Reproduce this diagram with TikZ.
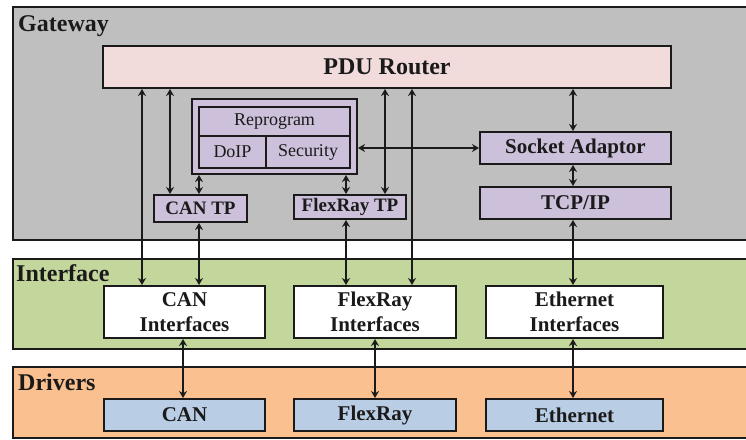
\documentclass[tikz,border=0pt]{standalone}
\usepackage{fontspec}
\setmainfont{Liberation Serif}
\usetikzlibrary{arrows.meta}
\definecolor{gwgray}{HTML}{BFBFBF}
\definecolor{pdupink}{HTML}{F2DCDB}
\definecolor{lilac}{HTML}{CCC0DA}
\definecolor{ifgreen}{HTML}{C3D69B}
\definecolor{drvorange}{HTML}{FAC090}
\definecolor{drvblue}{HTML}{B9CDE5}
\definecolor{ink}{HTML}{1A1A1A}
\begin{document}
\begin{tikzpicture}[x=1pt,y=-1pt,
  box/.style={draw=ink, line width=2pt, anchor=north west, inner sep=0pt,
    font=\bfseries\fontsize{21}{25}\selectfont, text=ink, align=center},
  layer/.style={draw=ink, line width=2.2pt, anchor=north west, inner sep=0pt},
  layerlabel/.style={anchor=base west, inner sep=0pt, text=ink,
    font=\bfseries\fontsize{24}{28}\selectfont},
  cell/.style={box, font=\fontsize{18}{22}\selectfont, fill=lilac},
  tpbox/.style={box, font=\bfseries\fontsize{19}{23}\selectfont, fill=lilac},
  arr/.style={draw=ink, line width=2pt,
    {Stealth[length=7pt,width=8pt]}-{Stealth[length=7pt,width=8pt]}}]
\clip (0,0) rectangle (746,439);
\fill[white] (0,0) rectangle (746,439);

% layers
\node[layer, fill=gwgray, minimum width=760, minimum height=233] (gateway) at (12,6) {};
\node[layer, fill=ifgreen, minimum width=760, minimum height=90] (interface) at (12,258) {};
\node[layer, fill=drvorange, minimum width=760, minimum height=71] (drivers) at (12,366) {};
\node[layerlabel] (gwlabel) at (18,31) {Gateway};
\node[layerlabel] (iflabel) at (16,281) {Interface};
\node[layerlabel] (drvlabel) at (18,390) {Drivers};

% gateway content
\node[box, fill=pdupink, minimum width=568, minimum height=42,
  font=\bfseries\fontsize{24}{28}\selectfont] (pdu) at (102,45) {PDU Router};
\node[box, fill=lilac, minimum width=165, minimum height=75] (reprog) at (191,98) {};
\node[cell, minimum width=151, minimum height=29] (reprogram) at (198,106) {Reprogram};
\node[cell, minimum width=67, minimum height=32] (doip) at (198,135) {DoIP};
\node[cell, minimum width=84, minimum height=32] (security) at (265,135) {Security};
\node[tpbox, minimum width=93, minimum height=27] (cantp) at (153,194) {CAN TP};
\node[tpbox, minimum width=112, minimum height=24] (frtp) at (293,194) {FlexRay TP};
\node[box, fill=lilac, minimum width=191, minimum height=32] (socket) at (479,131) {Socket Adaptor};
\node[box, fill=lilac, minimum width=191, minimum height=32] (tcpip) at (479,186) {TCP/IP};

% interface content
\node[box, fill=white, minimum width=161, minimum height=52] (canif) at (103,285) {CAN\\Interfaces};
\node[box, fill=white, minimum width=162, minimum height=52] (frif) at (293,285) {FlexRay\\Interfaces};
\node[box, fill=white, minimum width=177, minimum height=52] (ethif) at (485,285) {Ethernet\\Interfaces};

% drivers content
\node[box, fill=drvblue, minimum width=161, minimum height=32] (can) at (103,398) {CAN};
\node[box, fill=drvblue, minimum width=162, minimum height=32] (fr) at (293,398) {FlexRay};
\node[box, fill=drvblue, minimum width=177, minimum height=32] (eth) at (485,398) {Ethernet};

% connectors
\draw[arr] (pdu.south -| 142,0) -- (canif.north -| 142,0);
\draw[arr] (pdu.south -| 170,0) -- (cantp.north -| 170,0);
\draw[arr] (reprog.south -| 199,0) -- (cantp.north -| 199,0);
\draw[arr] (cantp.south -| 199,0) -- (canif.north -| 199,0);
\draw[arr] (reprog.south -| 346,0) -- (frtp.north -| 346,0);
\draw[arr] (frtp.south -| 346,0) -- (frif.north -| 346,0);
\draw[arr] (pdu.south -| 385,0) -- (frtp.north -| 385,0);
\draw[arr] (pdu.south -| 412,0) -- (frif.north -| 412,0);
\draw[arr] (reprog.east |- socket.west) -- (socket.west);
\draw[arr] (pdu.south -| 573,0) -- (socket.north -| 573,0);
\draw[arr] (socket.south -| 573,0) -- (tcpip.north -| 573,0);
\draw[arr] (tcpip.south -| 573,0) -- (ethif.north -| 573,0);
\draw[arr] (canif.south -| 183,0) -- (can.north -| 183,0);
\draw[arr] (frif.south -| 375,0) -- (fr.north -| 375,0);
\draw[arr] (ethif.south -| 573,0) -- (eth.north -| 573,0);
\end{tikzpicture}
\end{document}
